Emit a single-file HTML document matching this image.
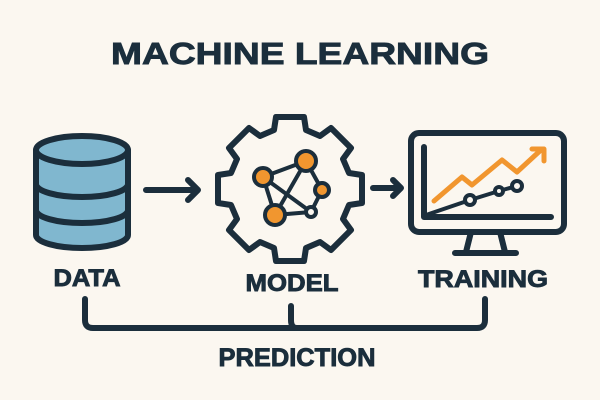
<!DOCTYPE html>
<html><head><meta charset="utf-8"><style>
html,body{margin:0;padding:0;background:#fbf7f0;}
svg{display:block}
text{font-family:"Liberation Sans",Arial,sans-serif;font-weight:bold;fill:#1b2e3c;stroke:#1b2e3c;stroke-width:0.9}
</style></head><body>
<svg width="600" height="400" viewBox="0 0 600 400">
<rect width="600" height="400" fill="#fbf7f0"/>
<text x="300" y="64" font-size="31" text-anchor="middle" textLength="378" lengthAdjust="spacingAndGlyphs">MACHINE LEARNING</text>
<g stroke="#1b2e3c" stroke-width="6" stroke-linecap="round" stroke-linejoin="round" fill="none">
<path d="M36 150 V235 A46 13 0 0 0 128 235 V150" fill="#80b7cf"/>
<ellipse cx="82" cy="150" rx="46" ry="14" fill="#80b7cf"/>
<path d="M36 184 A46 13 0 0 0 128 184"/>
<path d="M36 210 A46 13 0 0 0 128 210"/>
<path d="M146 190 H197 M188 180 L198 190 L188 200"/>
<path d="M373 188 H400 M393 180 L401 188 L393 196"/>
<path d="M276 117 H304 L306 130 L320 136 L331 128 L351 148 L343 159 L349 173 L362 175 V203 L349 205 L343 219 L351 230 L331 250 L320 242 L306 248 L304 261 H276 L274 248 L260 242 L249 250 L229 230 L237 219 L231 205 L218 203 V175 L231 173 L237 159 L229 148 L249 128 L260 136 L274 130 Z"/>
<path d="M263 177 L306 161 L322 190 L311 212 L275 215 L263 177 L311 212 M306 161 L275 215" stroke-width="4"/>
<circle cx="263" cy="177" r="9" fill="#f1962f" stroke-width="4"/>
<circle cx="306" cy="161" r="10" fill="#f1962f" stroke-width="4"/>
<circle cx="322" cy="190" r="7" fill="#f1962f" stroke-width="4"/>
<circle cx="275" cy="215" r="10" fill="#f1962f" stroke-width="4"/>
<circle cx="311" cy="212" r="5" fill="#fbf7f0" stroke-width="4"/>
<rect x="411" y="133" width="153" height="99" rx="8"/>
<path d="M424 147 V217 H551"/>
<path d="M471 232 L466 252 M500 232 L505 252 M455 253 H516"/>
<path d="M434 201 L462 177 L472 185 L502 160 L517 172 L542 149" stroke="#f1962f" stroke-width="5"/>
<path d="M532 149 H544 V161" stroke="#f1962f" stroke-width="5"/>
<path d="M426 215 L470 200 L499 191 L517 186" stroke-width="4"/>
<circle cx="470" cy="200" r="5" fill="#fbf7f0" stroke-width="4"/>
<circle cx="499" cy="191" r="4" fill="#fbf7f0" stroke-width="4"/>
<circle cx="517" cy="186" r="5" fill="#fbf7f0" stroke-width="4"/>
<path d="M85 299 V320 Q85 328 93 328 H477 Q485 328 485 320 V299"/>
<path d="M291 306 V320 Q291 328 297 328"/>
</g>
<text x="87" y="286" font-size="24" text-anchor="middle" textLength="67" lengthAdjust="spacingAndGlyphs">DATA</text>
<text x="292" y="291" font-size="24" text-anchor="middle" textLength="93" lengthAdjust="spacingAndGlyphs">MODEL</text>
<text x="483" y="287" font-size="24" text-anchor="middle" textLength="130" lengthAdjust="spacingAndGlyphs">TRAINING</text>
<text x="297" y="366" font-size="25" text-anchor="middle" textLength="157" lengthAdjust="spacingAndGlyphs">PREDICTION</text>
</svg>
</body></html>
